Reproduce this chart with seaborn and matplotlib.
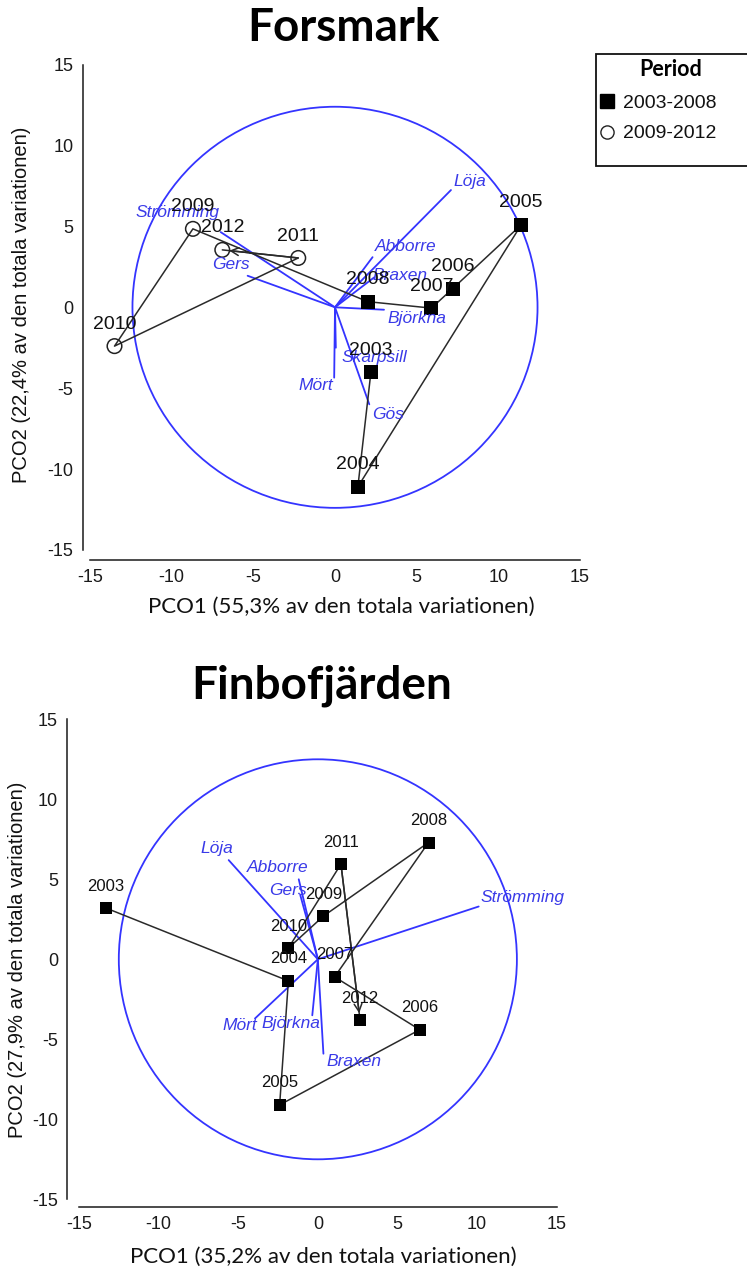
import numpy as np
import pandas as pd
import matplotlib
matplotlib.use("Agg")
import matplotlib.pyplot as plt
import seaborn as sns
from matplotlib.patches import Circle, Rectangle
from matplotlib.lines import Line2D

# ---------------- data ----------------
years = [2003, 2004, 2005, 2006, 2007, 2008, 2009, 2010, 2011, 2012]

fors_pco1 = [2.2, 1.4, 11.4, 7.2, 5.9, 2.0, -8.7, -13.5, -2.25, -6.9]
fors_pco2 = [-4.0, -11.1, 5.1, 1.15, -0.05, 0.35, 4.85, -2.4, 3.05, 3.55]
fors_period = ["2003-2008", "2003-2008", "2003-2008", "2003-2008", "2003-2008",
               "2003-2008", "2009-2012", "2009-2012", "2009-2012", "2009-2012"]
fors_species = ["Löja", "Abborre", "Braxen", "Björkna", "Skarpsill", "Mört", "Gös", "Gers", "Strömming"]
fors_vec_x = [7.1, 2.3, 2.4, 3.0, 0.05, -0.05, 2.1, -5.35, -7.0]
fors_vec_y = [7.25, 3.1, 1.85, -0.15, -2.5, -4.35, -6.0, 1.95, 4.65]
fors_circle_r = 12.4

finb_pco1 = [-13.3, -1.85, -2.4, 6.4, 1.05, 6.95, 0.35, -1.85, 1.45, 2.65]
finb_pco2 = [3.2, -1.35, -9.1, -4.4, -1.1, 7.3, 2.7, 0.7, 5.95, -3.8]
finb_species = ["Löja", "Abborre", "Gers", "Strömming", "Mört", "Björkna", "Braxen"]
finb_vec_x = [-5.6, -1.2, -1.1, 10.1, -3.95, -0.35, 0.35]
finb_vec_y = [6.2, 5.0, 4.0, 3.3, -3.7, -3.5, -5.9]
finb_circle_r = 12.5

ticks = [-15, -10, -5, 0, 5, 10, 15]
legend_title = "Period"
legend_labels = ["2003-2008", "2009-2012"]

# ---------------- layout / style (not data) ----------------
fors_label_off = {"Löja": (1.13, 0.53), "Abborre": (2.04, 0.68), "Braxen": (1.6, 0.1),
                  "Björkna": (2.04, -0.54), "Skarpsill": (2.35, -0.6), "Mört": (-1.13, -0.5),
                  "Gös": (1.12, -0.6), "Gers": (-1.02, 0.72), "Strömming": (-2.65, 1.23)}
finb_label_off = {"Löja": (-0.73, 0.74), "Abborre": (-1.33, 0.75), "Gers": (-0.75, 0.33),
                  "Strömming": (2.73, 0.58), "Mört": (-0.98, -0.45), "Björkna": (-1.33, -0.54),
                  "Braxen": (1.94, -0.5)}

BLUE = "#3434ff"
BLUE_TXT = "#3a3ae8"
LINE = "#2a2a2a"

sns.set_theme(style="white")
plt.rcParams["font.family"] = ["Liberation Sans", "DejaVu Sans"]
plt.rcParams["axes.unicode_minus"] = False
plt.rcParams["axes.edgecolor"] = "#1a1a1a"
plt.rcParams["text.color"] = "#111111"
plt.rcParams["axes.labelcolor"] = "#111111"

W, H = 747, 1274
fig = plt.figure(figsize=(W / 100, H / 100), dpi=100)


def px_axes(left, right, top, bottom):
    return fig.add_axes([left / W, 1 - bottom / H, (right - left) / W, (bottom - top) / H])


ax1 = px_axes(90, 580, 64.7, 549.9)
ax2 = px_axes(79, 556.7, 719.3, 1199.3)


def draw_panel(ax, xs, ys, species, vx, vy, r, offs, msize, ysize, period=None):
    ax.set_xlim(-15, 15)
    ax.set_ylim(-15, 15)
    ax.add_patch(Circle((0, 0), r, fill=False, edgecolor=BLUE, lw=1.3, zorder=1))
    for sp, ex, ey in zip(species, vx, vy):
        ax.plot([0, ex], [0, ey], color=BLUE, lw=1.3, zorder=2)
        dx, dy = offs[sp]
        ax.text(ex + dx, ey + dy, sp, color=BLUE_TXT, fontsize=12.5, style="italic",
                ha="center", va="center", zorder=5)
    df = pd.DataFrame({"PCO1": xs, "PCO2": ys, "year": years})
    sns.lineplot(data=df, x="PCO1", y="PCO2", sort=False, estimator=None,
                 color=LINE, lw=1.1, ax=ax, zorder=3)
    ax.annotate("", xy=(xs[-1], ys[-1]), xytext=(xs[-2], ys[-2]),
                arrowprops=dict(arrowstyle="->", color=LINE, lw=1.1,
                                shrinkA=0, shrinkB=5, mutation_scale=14), zorder=3)
    if period is None:
        sns.scatterplot(data=df, x="PCO1", y="PCO2", marker="s", color="black",
                        s=msize, edgecolor="black", linewidth=0, ax=ax, zorder=4)
    else:
        df["Period"] = period
        a = df[df["Period"] == legend_labels[0]]
        b = df[df["Period"] == legend_labels[1]]
        sns.scatterplot(data=a, x="PCO1", y="PCO2", marker="s", color="black",
                        s=msize, edgecolor="black", linewidth=0, ax=ax, zorder=4)
        sns.scatterplot(data=b, x="PCO1", y="PCO2", marker="o", s=msize * 1.05,
                        ax=ax, zorder=4)
        coll = ax.collections[-1]
        coll.set_facecolor("none")
        coll.set_edgecolor("#222222")
        coll.set_linewidth(1.1)
    for x, y, yr in zip(xs, ys, years):
        ax.annotate(str(yr), (x, y), xytext=(0, 15.8), textcoords="offset points",
                    ha="center", va="center", fontsize=ysize, color="#111111", zorder=6)
    ax.set_xticks(ticks)
    ax.set_yticks(ticks)
    ax.tick_params(axis="both", direction="inout", length=7, width=1, labelsize=13,
                   colors="#1a1a1a", pad=3)
    for s in ax.spines.values():
        s.set_linewidth(1.1)


draw_panel(ax1, fors_pco1, fors_pco2, fors_species, fors_vec_x, fors_vec_y,
           fors_circle_r, fors_label_off, 105, 14, period=fors_period)
draw_panel(ax2, finb_pco1, finb_pco2, finb_species, finb_vec_x, finb_vec_y,
           finb_circle_r, finb_label_off, 68, 12)

sns.despine(ax=ax1, offset=dict(left=5.3, bottom=7.3), trim=True)
sns.despine(ax=ax2, offset=dict(left=8.6, bottom=5.3), trim=True)

# axis labels
XFONT = ["Lato", "DejaVu Sans"]
ax1.set_xlabel("PCO1 (55,3% av den totala variationen)", fontsize=16, family=XFONT)
ax1.set_ylabel("PCO2 (22,4% av den totala variationen)", fontsize=14.5)
ax2.set_xlabel("PCO1 (35,2% av den totala variationen)", fontsize=16, family=XFONT)
ax2.set_ylabel("PCO2 (27,9% av den totala variationen)", fontsize=14.5)
ax1.xaxis.set_label_coords((341 - 90) / 490, (549.9 - 607) / 485.2)
ax1.xaxis.label.set_va("center")
ax1.yaxis.set_label_coords((22 - 90) / 490, (549.9 - 305) / 485.2)
ax1.yaxis.label.set_va("center")
ax2.xaxis.set_label_coords((323 - 79) / 477.7, (1199.3 - 1257) / 480)
ax2.xaxis.label.set_va("center")
ax2.yaxis.set_label_coords((18 - 79) / 477.7, (1199.3 - 960) / 480)
ax2.yaxis.label.set_va("center")

# titles
fig.text(343 / W, 1 - 28 / H, "Forsmark", fontsize=33, fontweight="bold",
         family=XFONT, ha="center", va="center", color="black")
fig.text(322 / W, 1 - 686 / H, "Finbofjärden", fontsize=33, fontweight="bold",
         family=XFONT, ha="center", va="center", color="black")

# legend (frame drawn as a separate box like the reference)
fig.patches.append(Rectangle((596 / W, 1 - 166 / H), 160 / W, 112 / H,
                             transform=fig.transFigure, fill=True, facecolor="white",
                             edgecolor="#111111", lw=1.3, zorder=0))
fig.text(671 / W, 1 - 70 / H, legend_title, fontsize=15.5, fontweight="bold",
         family=XFONT, ha="center", va="center", color="black")
handles = [Line2D([], [], marker="s", color="black", ls="none", markersize=9.5),
           Line2D([], [], marker="o", markerfacecolor="none", markeredgecolor="#222222",
                  ls="none", markersize=9.5)]
leg = fig.legend(handles, legend_labels,
                 loc="upper left", bbox_to_anchor=(598 / W, 1 - 92 / H),
                 frameon=False, fontsize=14, handlelength=0.7, handletextpad=0.5,
                 labelspacing=0.68, borderpad=0.1, borderaxespad=0)

fig.savefig("out.png", dpi=100)
